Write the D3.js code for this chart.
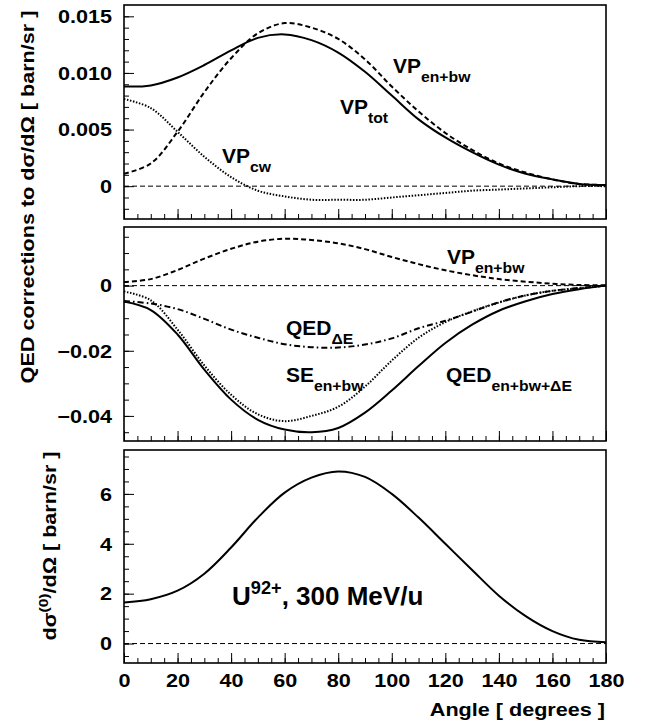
<!DOCTYPE html>
<html>
<head>
<meta charset="utf-8">
<script src="https://cdn.jsdelivr.net/npm/d3@7.9.0/dist/d3.min.js"></script>
<style>
  body { margin: 0; background: #fff; }
  svg { display: block; }
  text { font-family: "Liberation Sans", Arial, Helvetica, sans-serif; font-weight: bold; fill: #000; }
</style>
</head>
<body>
<svg id="chart" width="645" height="725"></svg>
<script>
// angle grid (degrees)
const angles = d3.range(0, 181, 10);

// top panel: vacuum polarisation corrections
const vpEnBw = [0.0011, 0.0020, 0.0048, 0.0083, 0.0113, 0.0135, 0.0144, 0.0140, 0.0130, 0.0112,
                0.0088, 0.0066, 0.0047, 0.0032, 0.0020, 0.0012, 0.0006, 0.0002, 0.0001];
const vpCw   = [0.0077, 0.0069, 0.0048, 0.0026, 0.0008, -0.0004, -0.0009, -0.0012, -0.0012, -0.0012,
                -0.0010, -0.0008, -0.0006, -0.0004, -0.0003, -0.0002, -0.0001, 0.0000, 0.0000];
const vpTot  = [0.0088, 0.0089, 0.0096, 0.0107, 0.0120, 0.0131, 0.0134, 0.0129, 0.0118, 0.0101,
                0.0080, 0.0059, 0.0043, 0.0030, 0.0019, 0.0011, 0.0006, 0.0002, 0.0001];

// middle panel: QED corrections
const qedDE  = [-0.0047, -0.0055, -0.0072, -0.0102, -0.0135, -0.0160, -0.0180, -0.0189, -0.0190, -0.0181,
                -0.0162, -0.0131, -0.0108, -0.0080, -0.0051, -0.0030, -0.0016, -0.0007, 0.0000];
const seEnBw = [-0.0018, -0.0045, -0.0135, -0.0245, -0.0335, -0.0395, -0.0416, -0.0400, -0.0372, -0.0310,
                -0.0230, -0.0160, -0.0112, -0.0079, -0.0052, -0.0030, -0.0016, -0.0008, 0.0000];
const qedTot = [-0.0049, -0.0075, -0.0150, -0.0258, -0.0350, -0.0412, -0.0442, -0.0450, -0.0437, -0.0390,
                -0.0322, -0.0247, -0.0176, -0.0120, -0.0077, -0.0048, -0.0026, -0.0011, 0.0000];

// bottom panel: uncorrected cross section
const sigma0 = [1.65, 1.78, 2.12, 2.80, 3.85, 5.05, 6.05, 6.65, 6.90, 6.68,
                6.00, 5.05, 4.00, 2.95, 1.92, 1.10, 0.50, 0.15, 0.05];

// tick labels
const xTicks = d3.range(0, 181, 20);
const topTicks = [0, 0.005, 0.010, 0.015];
const topTickLabels = ["0", "0.005", "0.010", "0.015"];
const midTicks = [-0.04, -0.02, 0];
const midTickLabels = ["\u22120.04", "\u22120.02", "0"];
const botTicks = [0, 2, 4, 6];
const botTickLabels = ["0", "2", "4", "6"];

const svg = d3.select("#chart");
const left = 124, right = 606;
const SX = 1.2; // horizontal stretch of the axis lettering

const x = d3.scaleLinear().domain([0, 180]).range([left, right]);

const styles = {
  solid:   { w: 2,   dash: null },
  dashed:  { w: 2,   dash: "5,3" },
  dotted:  { w: 2,   dash: "1.5,1.6" },
  dashdot: { w: 2,   dash: "6,3,1.6,3" }
};

function richText(parent, px, py, parts, size, opts = {}) {
  const sx = opts.sx || 1;
  const g = parent.append("g")
    .attr("transform", `translate(${px},${py})` + (opts.rot ? ` rotate(${opts.rot})` : "") + ` scale(${sx},1)`);
  const t = g.append("text").attr("font-size", size).attr("text-anchor", opts.anchor || "start");
  let cur = 0;
  parts.forEach(([s, k]) => {
    const off = k === "sub" ? size * 0.45 : k === "sup" ? -size * 0.42 : 0;
    t.append("tspan")
      .attr("dy", off - cur)
      .attr("font-size", k ? size * (opts.small || 0.72) : size)
      .text(s);
    cur = off;
  });
  return t;
}

function panel(cfg) {
  const y = d3.scaleLinear().domain(cfg.domain).range([cfg.bottom, cfg.top]);
  const g = svg.append("g");

  // zero reference line
  g.append("path")
    .attr("d", d3.line().x(d => x(d)).y(() => y(0))([0, 180]))
    .attr("stroke", "#000").attr("stroke-width", 1).attr("stroke-dasharray", "5,3").attr("fill", "none");

  const line = d3.line().x((d, i) => x(angles[i])).y(d => y(d)).curve(d3.curveCatmullRom.alpha(0.5));
  cfg.series.forEach(s => {
    const st = styles[s.style];
    g.append("path")
      .attr("d", line(s.values))
      .attr("fill", "none").attr("stroke", "#000")
      .attr("stroke-width", st.w)
      .attr("stroke-dasharray", st.dash);
  });

  // y axis
  const minor = g.append("g").attr("transform", `translate(${left},0)`)
    .call(d3.axisLeft(y).tickValues(cfg.minor).tickSize(-5).tickFormat(""));
  minor.select(".domain").remove();
  const major = g.append("g").attr("transform", `translate(${left},0)`)
    .call(d3.axisLeft(y).tickValues(cfg.ticks).tickSize(-10).tickPadding(12)
      .tickFormat((d, i) => cfg.labels[i]));
  major.select(".domain").remove();
  major.attr("font-family", null).attr("font-size", 18);
  major.selectAll("text").attr("x", -12 / SX).attr("transform", `scale(${SX},1)`).attr("dy", "0.35em");

  // x axis
  const xm = g.append("g").attr("transform", `translate(0,${cfg.bottom})`)
    .call(d3.axisBottom(x).tickValues(d3.range(0, 181, 5)).tickSize(-5).tickFormat(""));
  xm.select(".domain").remove();
  const xa = g.append("g").attr("transform", `translate(0,${cfg.bottom})`)
    .call(d3.axisBottom(x).tickValues(xTicks).tickSize(-10).tickPadding(11)
      .tickFormat(cfg.xLabels ? d3.format("d") : ""));
  xa.select(".domain").remove();
  xa.attr("font-family", null).attr("font-size", 18);
  xa.selectAll("text").attr("transform", `scale(${SX},1)`);
  g.selectAll(".tick line").attr("stroke", "#000").attr("stroke-width", 1);

  // frame
  g.append("rect")
    .attr("x", left).attr("y", cfg.top)
    .attr("width", right - left).attr("height", cfg.bottom - cfg.top)
    .attr("fill", "none").attr("stroke", "#000").attr("stroke-width", 1.6);
  return y;
}

panel({
  top: 5, bottom: 219, domain: [-0.0029, 0.016],
  ticks: topTicks, labels: topTickLabels, minor: d3.range(-2, 16).map(d => d / 1000),
  series: [
    { values: vpCw, style: "dotted" },
    { values: vpEnBw, style: "dashed" },
    { values: vpTot, style: "solid" }
  ]
});

panel({
  top: 227, bottom: 441, domain: [-0.0477, 0.018],
  ticks: midTicks, labels: midTickLabels, minor: d3.range(-9, 4).map(d => d * 0.005),
  series: [
    { values: vpEnBw, style: "dashed" },
    { values: qedDE, style: "dashdot" },
    { values: seEnBw, style: "dotted" },
    { values: qedTot, style: "solid" }
  ]
});

panel({
  top: 450, bottom: 663, domain: [-0.78, 7.76],
  ticks: botTicks, labels: botTickLabels, minor: d3.range(-1, 16).map(d => d * 0.5),
  xLabels: true,
  series: [
    { values: sigma0, style: "solid" }
  ]
});

// annotations
const A = 20, AS = 0.75;
richText(svg, 393, 73, [["VP"], ["en+bw", "sub"]], A, { sx: 1.05, small: AS });
richText(svg, 340, 114, [["VP"], ["tot", "sub"]], A, { sx: 1.05, small: AS });
richText(svg, 222, 163, [["VP"], ["cw", "sub"]], A, { sx: 1.05, small: AS });

richText(svg, 447, 264, [["VP"], ["en+bw", "sub"]], A, { sx: 1.05, small: AS });
richText(svg, 286, 335, [["QED"], ["\u0394E", "sub"]], A, { sx: 1.05, small: AS });
richText(svg, 286, 382, [["SE"], ["en+bw", "sub"]], A, { sx: 1.05, small: AS });
richText(svg, 446, 382, [["QED"], ["en+bw+\u0394E", "sub"]], A, { sx: 1.05, small: AS });

richText(svg, 232, 605, [["U"], ["92+", "sup"], [", 300 MeV/u"]], 26, { small: 0.7 });

// axis titles
richText(svg, 605, 716, [["Angle [ degrees ]"]], 18, { sx: SX, anchor: "end" });
richText(svg, 34, 197, [["QED corrections to d\u03c3/d\u03a9 [ barn/sr ]"]], 18, { sx: SX, rot: -90, anchor: "middle" });
richText(svg, 56, 546, [["d\u03c3"], ["(0)", "sup"], ["/d\u03a9 [ barn/sr ]"]], 18, { sx: SX, rot: -90, anchor: "middle" });
</script>
</body>
</html>
